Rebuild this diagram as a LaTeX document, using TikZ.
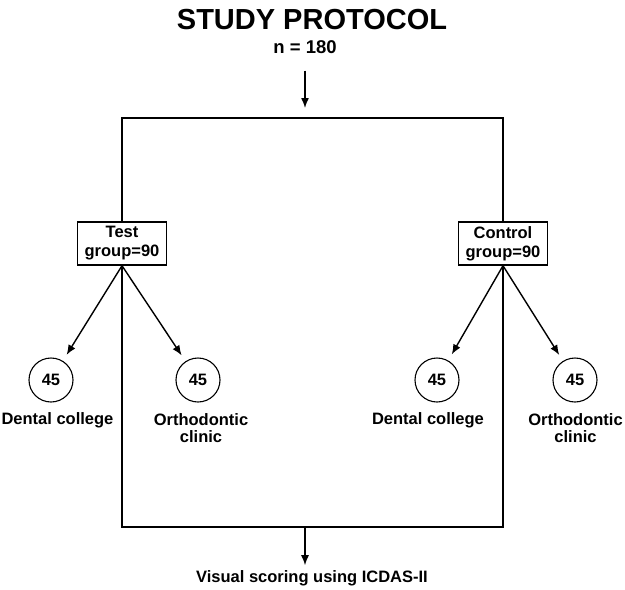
\documentclass[tikz,border=0pt]{standalone}
\usepackage{fontspec}
\setmainfont{Liberation Sans}
\usetikzlibrary{arrows.meta}

\begin{document}
\begin{tikzpicture}[x=1pt,y=-1pt,line width=1.4pt,
    >={Latex[length=10pt,width=8pt]},
    font=\bfseries\fontsize{16.5}{17}\selectfont]
\useasboundingbox (0,0) rectangle (625,590);

% heading
\node (title) at (312,20) {\fontsize{29}{30}\selectfont STUDY PROTOCOL};
\node (n) at (305,47) {\fontsize{18.5}{20}\selectfont n = 180};

% frame
\coordinate (tl) at (122,118);
\coordinate (br) at (503,527);
\draw (tl) rectangle (br);
\coordinate (top) at (305,118);
\coordinate (bot) at (305,527);

\begin{scope}[every node/.style={draw,fill=white,align=center,minimum width=89pt,minimum height=43pt,inner sep=2pt,font=\bfseries\fontsize{16.5}{19}\selectfont}]
    \node (test) at (122,243.5) {Test\\group=90};
    \node (ctrl) at (503,243.5) {Control\\group=90};
\end{scope}

\begin{scope}[every node/.style={circle,draw,fill=white,line width=1.1pt,minimum size=44pt,inner sep=0pt}]
    \node (tdc) at (51,380) {45};
    \node (toc) at (198,380) {45};
    \node (cdc) at (437,380) {45};
    \node (coc) at (575,380) {45};
\end{scope}

\begin{scope}[every node/.style={align=center}]
    \node (tdcl) at (57.5,420) {Dental college};
    \node (tocl) at (201,428.5) {Orthodontic\\clinic};
    \node (cdcl) at (428,420) {Dental college};
    \node (cocl) at (575.5,428.5) {Orthodontic\\clinic};
    \node (vis) at (312,578) {Visual scoring using ICDAS-II};
\end{scope}

\begin{scope}
    \draw [->,shorten <=13pt,shorten >=10pt] (n) -- (top);
    \path [->,shorten >=7pt] (test.south) edge (tdc)
                             (test.south) edge (toc)
                             (ctrl.south) edge (cdc)
                             (ctrl.south) edge (coc);
    \draw [->,shorten >=1pt] (bot) -- (bot |- vis.north);
\end{scope}
\end{tikzpicture}
\end{document}
